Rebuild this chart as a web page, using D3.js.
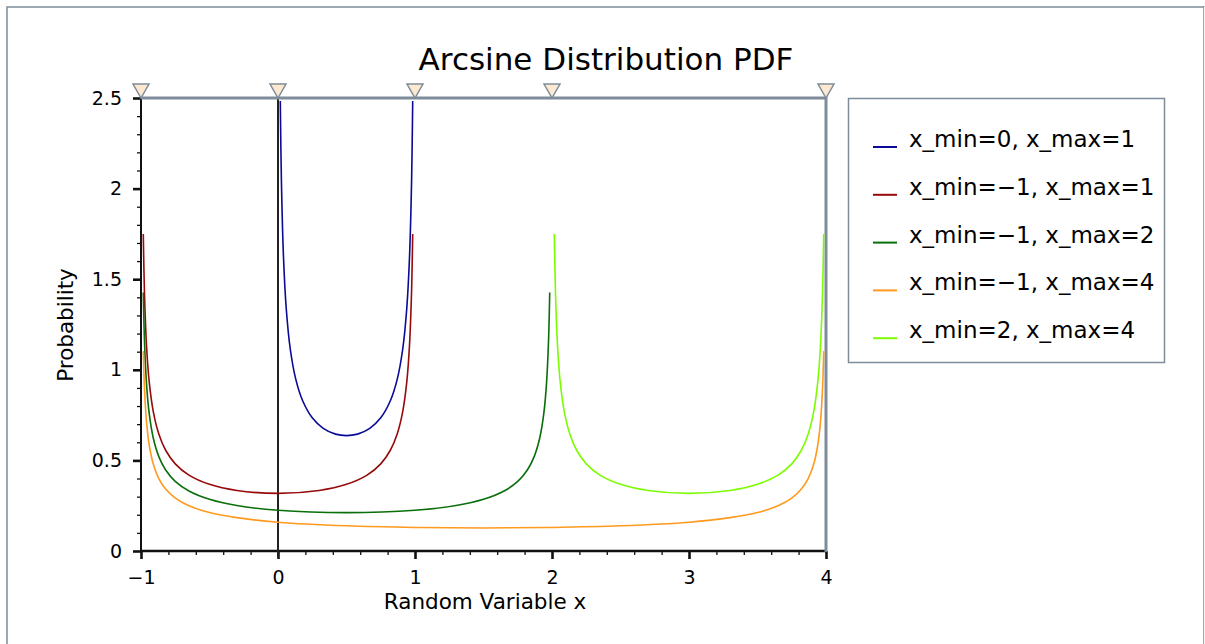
<!DOCTYPE html>
<html>
<head>
<meta charset="utf-8">
<script src="https://cdn.jsdelivr.net/npm/d3@7"></script>
<style>
  html, body { margin: 0; padding: 0; background: #fff; }
  svg { display: block; font-family: "DejaVu Sans", sans-serif; }
</style>
</head>
<body>
<svg id="chart" width="1205" height="644"></svg>
<script>
// ---- data ----
const chartTitle = "Arcsine Distribution PDF";
const xLabel = "Random Variable x";
const yLabel = "Probability";
const seriesLabels = ["x_min=0, x_max=1", "x_min=\u22121, x_max=1", "x_min=\u22121, x_max=2", "x_min=\u22121, x_max=4", "x_min=2, x_max=4"];
const seriesColors = ["#0a0a96", "#960a0a", "#0a6e0a", "#ff9a1e", "#7cfc00"];

const xs1 = [0.0167, 0.025, 0.04, 0.06, 0.09, 0.13, 0.18, 0.25, 0.33, 0.42, 0.5, 0.58, 0.67, 0.75, 0.82, 0.87, 0.91, 0.94, 0.96, 0.975, 0.9833];
const ys1 = [2.484, 2.039, 1.624, 1.340, 1.112, 0.947, 0.829, 0.735, 0.677, 0.645, 0.637, 0.645, 0.677, 0.735, 0.829, 0.947, 1.112, 1.340, 1.624, 2.039, 2.484];

const xs2 = [-0.9833, -0.975, -0.96, -0.94, -0.91, -0.87, -0.82, -0.75, -0.65, -0.5, -0.3, 0, 0.3, 0.5, 0.65, 0.75, 0.82, 0.87, 0.91, 0.94, 0.96, 0.975, 0.9833];
const ys2 = [1.749, 1.433, 1.137, 0.933, 0.768, 0.646, 0.556, 0.481, 0.419, 0.368, 0.334, 0.318, 0.334, 0.368, 0.419, 0.481, 0.556, 0.646, 0.768, 0.933, 1.137, 1.433, 1.749];

const xs3 = [-0.9833, -0.975, -0.96, -0.94, -0.91, -0.87, -0.82, -0.75, -0.65, -0.5, -0.3, 0, 0.5, 1.0, 1.3, 1.5, 1.65, 1.75, 1.82, 1.87, 1.91, 1.94, 1.96, 1.975, 1.9833];
const ys3 = [1.426, 1.167, 0.925, 0.758, 0.622, 0.521, 0.447, 0.384, 0.331, 0.285, 0.251, 0.225, 0.212, 0.225, 0.251, 0.285, 0.331, 0.384, 0.447, 0.521, 0.622, 0.758, 0.925, 1.167, 1.426];

const xs4 = [-0.9833, -0.975, -0.96, -0.94, -0.91, -0.87, -0.82, -0.75, -0.65, -0.5, -0.3, 0, 0.5, 1.0, 1.5, 2.0, 2.5, 3.0, 3.3, 3.5, 3.65, 3.75, 3.82, 3.87, 3.91, 3.94, 3.96, 3.975, 3.9833];
const ys4 = [1.103, 0.903, 0.715, 0.585, 0.479, 0.400, 0.342, 0.292, 0.250, 0.212, 0.184, 0.159, 0.139, 0.130, 0.127, 0.130, 0.139, 0.159, 0.184, 0.212, 0.250, 0.292, 0.342, 0.400, 0.479, 0.585, 0.715, 0.903, 1.103];

const xs5 = [2.0167, 2.025, 2.04, 2.06, 2.09, 2.13, 2.18, 2.25, 2.35, 2.5, 2.7, 3.0, 3.3, 3.5, 3.65, 3.75, 3.82, 3.87, 3.91, 3.94, 3.96, 3.975, 3.9833];
const ys5 = [1.749, 1.433, 1.137, 0.933, 0.768, 0.646, 0.556, 0.481, 0.419, 0.368, 0.334, 0.318, 0.334, 0.368, 0.419, 0.481, 0.556, 0.646, 0.768, 0.933, 1.137, 1.433, 1.749];

const xTickValues = [-1, 0, 1, 2, 3, 4];
const xTickLabels = ["\u22121", "0", "1", "2", "3", "4"];
const yTickValues = [0, 0.5, 1, 1.5, 2, 2.5];
const yTickLabels = ["0", "0.5", "1", "1.5", "2", "2.5"];
const markerValues = [-1, 0, 1, 2, 4];

// ---- drawing ----
const seriesX = [xs1, xs2, xs3, xs4, xs5];
const seriesY = [ys1, ys2, ys3, ys4, ys5];

const svg = d3.select("#chart");
const frameGray = "#7f8c99";

const x = d3.scaleLinear().domain([-1, 4]).range([141, 826]);
const y = d3.scaleLinear().domain([0, 2.5]).range([551, 98]);

// outer border
svg.append("rect").attr("x", 7).attr("y", 7).attr("width", 1197).attr("height", 700)
  .attr("fill", "none").attr("stroke", frameGray).attr("stroke-width", 1.5);
svg.append("line").attr("x1", 1204.5).attr("x2", 1204.5).attr("y1", 7).attr("y2", 644)
  .attr("stroke", "#f2f2f2").attr("stroke-width", 1);

// title
svg.append("text").attr("x", 606).attr("y", 70).attr("text-anchor", "middle")
  .attr("font-size", 31).attr("fill", "#000").text(chartTitle);

// minor ticks
const xMinor = d3.range(-1, 4.001, 0.2).filter(v => Math.abs(v - Math.round(v)) > 1e-6);
const yMinor = d3.range(0, 2.5001, 0.1).filter(v => Math.abs(v * 2 - Math.round(v * 2)) > 1e-6);

const gxMinor = svg.append("g").attr("transform", `translate(0,${y(0)})`)
  .call(d3.axisBottom(x).tickValues(xMinor).tickSize(4).tickFormat(""));
gxMinor.select(".domain").remove();
gxMinor.selectAll(".tick line").attr("stroke", "#111").attr("stroke-width", 1.3);

const gyMinor = svg.append("g").attr("transform", `translate(${x(-1)},0)`)
  .call(d3.axisLeft(y).tickValues(yMinor).tickSize(4).tickFormat(""));
gyMinor.select(".domain").remove();
gyMinor.selectAll(".tick line").attr("stroke", "#111").attr("stroke-width", 1.3);

// major axes
const gx = svg.append("g").attr("transform", `translate(0,${y(0)})`)
  .call(d3.axisBottom(x).tickValues(xTickValues).tickSize(8).tickPadding(12)
    .tickFormat((d, i) => xTickLabels[i]));
gx.select(".domain").attr("stroke", "#111").attr("stroke-width", 2.5)
  .attr("d", `M${x(-1)},0H${x(4)}`);
gx.selectAll(".tick line").attr("stroke", "#111").attr("stroke-width", 2.6);
gx.selectAll(".tick text").attr("font-size", 19).attr("fill", "#000")
  .attr("font-family", "DejaVu Sans, sans-serif");

const gy = svg.append("g").attr("transform", `translate(${x(-1)},0)`)
  .call(d3.axisLeft(y).tickValues(yTickValues).tickSize(8).tickPadding(11)
    .tickFormat((d, i) => yTickLabels[i]));
gy.select(".domain").attr("stroke", "#111").attr("stroke-width", 2)
  .attr("d", `M0,${y(0)}V${y(2.5)}`);
gy.selectAll(".tick line").attr("stroke", "#111").attr("stroke-width", 2.6);
gy.selectAll(".tick text").attr("font-size", 19).attr("fill", "#000")
  .attr("font-family", "DejaVu Sans, sans-serif");

// zero line
svg.append("line").attr("x1", x(0)).attr("x2", x(0)).attr("y1", y(2.5)).attr("y2", y(0) + 6)
  .attr("stroke", "#222").attr("stroke-width", 2);

// top and right frame
svg.append("path").attr("d", `M${x(-1)},${y(2.5)}H${x(4)}V${y(0) + 1}`)
  .attr("fill", "none").attr("stroke", frameGray).attr("stroke-width", 3);

// curves
const line = d3.line().x(d => x(d[0])).y(d => y(d[1])).curve(d3.curveCatmullRom.alpha(0.5));
seriesX.forEach((xs, i) => {
  const pts = xs.map((v, j) => [v, seriesY[i][j]]);
  svg.append("path").datum(pts).attr("d", line)
    .attr("fill", "none").attr("stroke", seriesColors[i]).attr("stroke-width", 1.6);
});

// top triangle markers
svg.selectAll(".marker").data(markerValues).enter().append("path")
  .attr("class", "marker")
  .attr("d", d => `M${x(d) - 8},${y(2.5) - 14}L${x(d) + 8},${y(2.5) - 14}L${x(d)},${y(2.5)}Z`)
  .attr("fill", "#fde8d0").attr("stroke", frameGray).attr("stroke-width", 1.5);

// axis labels
svg.append("text").attr("x", 485).attr("y", 609).attr("text-anchor", "middle")
  .attr("font-size", 21.5).attr("fill", "#000").text(xLabel);
svg.append("text").attr("transform", "translate(73,325) rotate(-90)").attr("text-anchor", "middle")
  .attr("font-size", 21.5).attr("fill", "#000").text(yLabel);

// legend
svg.append("rect").attr("x", 848.5).attr("y", 98.5).attr("width", 316).attr("height", 264)
  .attr("fill", "#fff").attr("stroke", frameGray).attr("stroke-width", 1.5);
const leg = svg.selectAll(".leg").data(seriesLabels).enter().append("g")
  .attr("class", "leg").attr("transform", (d, i) => `translate(0,${147 + i * 47.8})`);
leg.append("line").attr("x1", 873).attr("x2", 897).attr("y1", 0).attr("y2", 0)
  .attr("stroke", (d, i) => seriesColors[i]).attr("stroke-width", 2);
leg.append("text").attr("x", 909).attr("y", 0).attr("font-size", 23).attr("fill", "#000")
  .text(d => d);
</script>
</body>
</html>
